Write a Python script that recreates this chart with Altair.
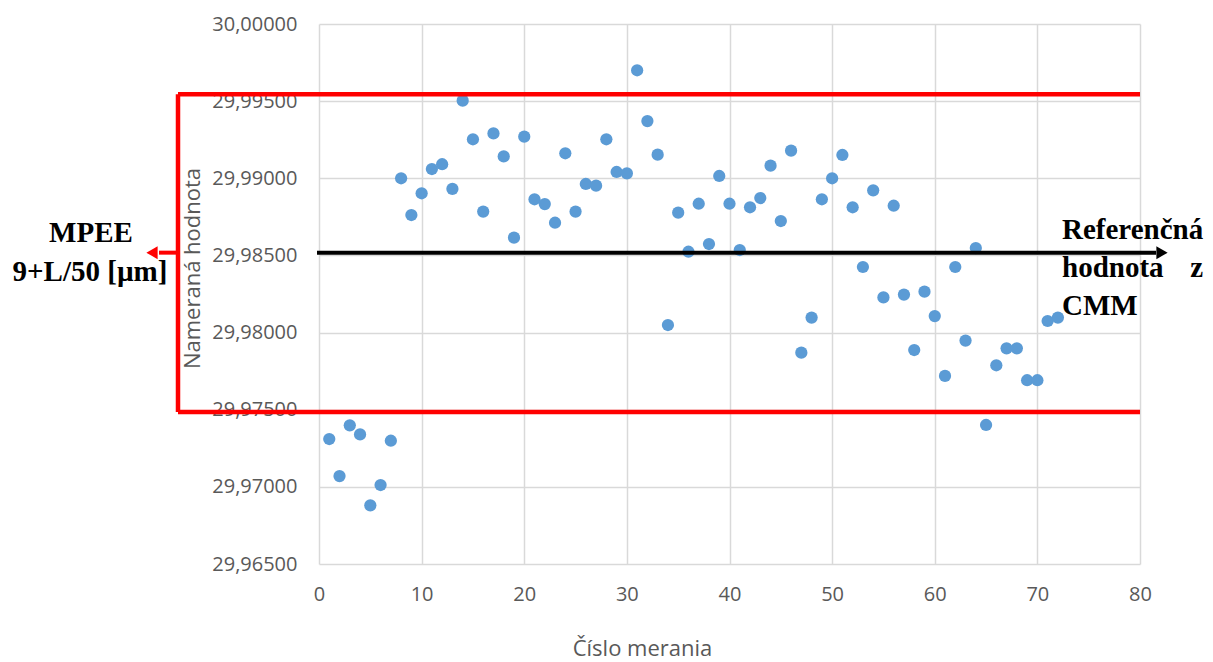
import altair as alt
import pandas as pd

# ---- data ----
meas_no = list(range(1, 73))
values = [29.97310, 29.97070, 29.97399, 29.97340, 29.96880, 29.97012, 29.97299, 29.99000, 29.98762, 29.98903,
          29.99060, 29.99091, 29.98931, 29.99503, 29.99253, 29.98784, 29.99291, 29.99142, 29.98615, 29.99270,
          29.98864, 29.98833, 29.98712, 29.99162, 29.98784, 29.98963, 29.98952, 29.99253, 29.99041, 29.99032,
          29.99700, 29.99371, 29.99153, 29.98049, 29.98777, 29.98524, 29.98835, 29.98574, 29.99015, 29.98835,
          29.98535, 29.98812, 29.98872, 29.99082, 29.98723, 29.99179, 29.97870, 29.98097, 29.98864, 29.99000,
          29.99151, 29.98812, 29.98425, 29.98922, 29.98228, 29.98822, 29.98246, 29.97887, 29.98265, 29.98107,
          29.97719, 29.98425, 29.97948, 29.98548, 29.97401, 29.97788, 29.97898, 29.97898, 29.97691, 29.97691,
          29.98075, 29.98097]

upper_limit = [29.99545]
lower_limit = [29.97485]
reference_value = [29.98518]

x_ticks = [0, 10, 20, 30, 40, 50, 60, 70, 80]
y_ticks = [29.965, 29.970, 29.975, 29.980, 29.985, 29.990, 29.995, 30.000]

x_title = "Číslo merania"
y_title = "Nameraná hodnota"
left_text = ["MPEE", "9+L/50 [µm]"]
right_text = ["Referenčná", "hodnota", "z", "CMM"]

W, H = 821, 540
GREY = "#595959"
FONT = "Open Sans"
SERIF = "Liberation Serif"

pts_df = pd.DataFrame({"n": meas_no, "y": values})
limits_df = pd.DataFrame({"y": upper_limit + lower_limit})
box_df = pd.DataFrame({"y": upper_limit, "y2": lower_limit})
ref_df = pd.DataFrame({"y": reference_value})

points = alt.Chart(pts_df).mark_circle(size=150, color="#5b9bd5", opacity=1).encode(
    x=alt.X("n:Q", scale=alt.Scale(domain=[0, 80], nice=False, zero=False),
            axis=alt.Axis(values=x_ticks, title=x_title, grid=True, ticks=False, domain=False,
                          labelPadding=20, labelFontSize=20, labelColor=GREY, labelFont=FONT,
                          labelFlush=False,
                          titleFont=FONT, titleFontSize=22, titleColor=GREY, titleFontWeight="normal",
                          titleX=323, titleY=84, titleBaseline="middle",
                          gridColor="#d9d9d9", gridWidth=1.5)),
    y=alt.Y("y:Q", scale=alt.Scale(domain=[29.965, 30.0], nice=False, zero=False),
            axis=alt.Axis(values=y_ticks, title=y_title, grid=True, ticks=False, domain=False,
                          labelExpr="replace(format(datum.value, '.5f'), '.', ',')",
                          labelPadding=22, labelFontSize=20, labelColor=GREY, labelFont=FONT,
                          labelFlush=False,
                          titleFont=FONT, titleFontSize=22, titleColor=GREY, titleFontWeight="normal",
                          titleAngle=270, titleX=-127, titleY=244, titleAlign="center",
                          titleBaseline="middle", gridColor="#d9d9d9", gridWidth=1.5)),
)

red_h = alt.Chart(limits_df).mark_rule(color="#ff0000", strokeWidth=4.5).encode(
    y="y:Q", x=alt.value(-141), x2=alt.value(W))
red_v = alt.Chart(box_df).mark_rule(color="#ff0000", strokeWidth=4.5).encode(
    y="y:Q", y2="y2:Q", x=alt.value(-141))
red_arrow = alt.Chart(ref_df).mark_rule(color="#ff0000", strokeWidth=4).encode(
    y="y:Q", x=alt.value(-141), x2=alt.value(-160))
red_head = alt.Chart(ref_df).mark_point(shape="triangle-left", filled=True, color="#ff0000",
                                        opacity=1, size=170).encode(y="y:Q", x=alt.value(-167))
black_line = alt.Chart(ref_df).mark_rule(color="black", strokeWidth=4).encode(
    y="y:Q", x=alt.value(-2), x2=alt.value(837))
black_head = alt.Chart(ref_df).mark_point(shape="triangle-right", filled=True, color="black",
                                          opacity=1, size=170).encode(y="y:Q", x=alt.value(843))

def txt(s, x, y, align):
    return alt.Chart(pd.DataFrame({"t": [s]})).mark_text(
        font=SERIF, fontSize=29, fontWeight="bold", color="black", align=align, baseline="middle"
    ).encode(text="t:N", x=alt.value(x), y=alt.value(y))

texts = [
    txt(left_text[0], -228, 209, "center"),
    txt(left_text[1], -229, 248, "center"),
    txt(right_text[0], 743, 206, "left"),
    txt(right_text[1], 743, 244, "left"),
    txt(right_text[2], 884, 244, "right"),
    txt(right_text[3], 743, 282, "left"),
]

chart = alt.layer(points, red_h, red_v, red_arrow, red_head, black_line, black_head, *texts).properties(
    width=W, height=H,
    autosize=alt.AutoSizeParams(type="none"),
    padding={"left": 311, "top": 16, "right": 65, "bottom": 98},
).configure_view(strokeWidth=0)

chart.save("out.html", embed_options={"renderer": "svg", "actions": False})
